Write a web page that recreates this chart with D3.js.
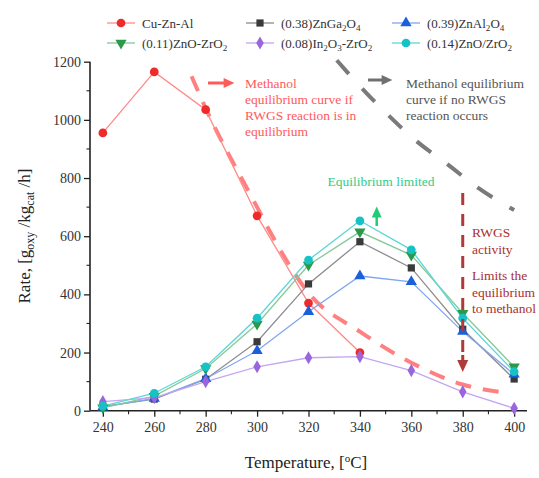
<!DOCTYPE html>
<html><head><meta charset="utf-8">
<script src="https://cdn.jsdelivr.net/npm/d3@7"></script>
<style>body{margin:0;background:#fff}svg{display:block}</style>
</head><body><svg id="c" width="539" height="478" font-family="'Liberation Serif','DejaVu Serif','Noto Serif',serif"></svg>
<script>
const temps = [240,260,280,300,320,340,360,380,400];
const cuZnAl = [955,1165,1035,670,370,200];
const znGa2O4 = [15,40,108,237,436,581,491,280,109];
const znAl2O4 = [12,42,110,206,340,463,443,272,125];
const znoZrO2_011 = [10,50,145,298,501,615,535,335,151];
const in2o3ZrO2 = [31,45,100,151,182,186,138,65,8];
const znoZrO2_014 = [16,60,151,318,518,653,553,318,134];
const eqRwgsT = [274.5,280,300,306,320,340,360,380,398];
const eqRwgsV = [1150,1040,700,600,405,272,165,90,60];
const eqNoRwgsT = [331,340,350,362,374,386,400];
const eqNoRwgsV = [1205,1116,1025,927,848,766,690];
const seriesNames = ["Cu-Zn-Al","(0.38)ZnGa_2O_4","(0.39)ZnAl_2O_4","(0.11)ZnO-ZrO_2","(0.08)In_2O_3-ZrO_2","(0.14)ZnO/ZrO_2"];
const xTicks = [240,260,280,300,320,340,360,380,400];
const yTicks = [0,200,400,600,800,1000,1200];

const FONT = "'Liberation Serif','DejaVu Serif','Noto Serif',serif";
const svg = d3.select("#c");
const x = d3.scaleLinear().domain([235,405]).range([90,527]);
const y = d3.scaleLinear().domain([0,1200]).range([410.7,61.7]);

const series = [
  {name:seriesNames[0], vals:cuZnAl, line:"#ff8a8a", mk:"#ee2a2a", sym:d3.symbolCircle, size:60},
  {name:seriesNames[1], vals:znGa2O4, line:"#8c8c8c", mk:"#3a3a3a", sym:d3.symbolSquare, size:52},
  {name:seriesNames[2], vals:znAl2O4, line:"#7fa6ee", mk:"#1a5fdc", sym:d3.symbolTriangle, size:55},
  {name:seriesNames[3], vals:znoZrO2_011, line:"#86c99a", mk:"#2a9a4a", sym:d3.symbolTriangle, size:55, rot:180},
  {name:seriesNames[4], vals:in2o3ZrO2, line:"#c4a6f0", mk:"#9a66dd", sym:d3.symbolDiamond, size:50},
  {name:seriesNames[5], vals:znoZrO2_014, line:"#5fd6d6", mk:"#16c2c6", sym:d3.symbolCircle, size:60}
];

function addSub(sel, str, fs){
  const parts = str.split(/_(.)/);
  let shift = 0;
  parts.forEach((p,i)=>{
    if(!p) return;
    if(i%2===1){ sel.append("tspan").attr("font-size",fs*0.7).attr("dy",3-shift).text(p); shift=3; }
    else { sel.append("tspan").attr("dy",-shift).text(p); shift=0; }
  });
}

// axes
const xAxis = d3.axisBottom(x).tickValues(xTicks).tickSize(6).tickPadding(5).tickFormat(d3.format("d"));
const gx = svg.append("g").attr("transform","translate(0,410.7)").call(xAxis).attr("font-family",FONT);
gx.selectAll(".tick text").attr("font-size",14).attr("fill","#333");
gx.select(".domain").attr("d","M90,0H527").attr("stroke","#222").attr("stroke-width",1.6);
gx.selectAll(".tick line").attr("stroke","#222").attr("stroke-width",1.3);
gx.selectAll(".minor").data(d3.range(250,401,20)).enter().append("line")
  .attr("x1",d=>x(d)).attr("x2",d=>x(d)).attr("y1",0).attr("y2",3.5).attr("stroke","#222").attr("stroke-width",1.1);

const yAxis = d3.axisLeft(y).tickValues(yTicks).tickSize(6).tickPadding(3).tickFormat(d3.format("d"));
const gy = svg.append("g").attr("transform","translate(90,0)").call(yAxis).attr("font-family",FONT);
gy.selectAll(".tick text").attr("font-size",14).attr("fill","#333");
gy.select(".domain").attr("d","M0,410.7V61.7").attr("stroke","#222").attr("stroke-width",1.6);
gy.selectAll(".tick line").attr("stroke","#222").attr("stroke-width",1.3);
gy.selectAll(".minor").data(d3.range(100,1200,200)).enter().append("line")
  .attr("y1",d=>y(d)).attr("y2",d=>y(d)).attr("x1",0).attr("x2",-3.5).attr("stroke","#222").attr("stroke-width",1.1);

// axis labels
const xl = svg.append("text").attr("x",306).attr("y",468).attr("text-anchor","middle").attr("font-size",17).attr("fill","#222");
xl.append("tspan").text("Temperature, [");
xl.append("tspan").attr("font-size",11).attr("dy",-6).text("o");
xl.append("tspan").attr("dy",6).text("C]");
const yl = svg.append("text").attr("transform","translate(30,236) rotate(-90)").attr("text-anchor","middle").attr("font-size",17).attr("fill","#222");
yl.append("tspan").text("Rate, [g");
yl.append("tspan").attr("font-size",12).attr("dy",4).text("oxy");
yl.append("tspan").attr("dy",-4).text(" /kg");
yl.append("tspan").attr("font-size",12).attr("dy",4).text("cat");
yl.append("tspan").attr("dy",-4).text(" /h]");

// equilibrium curves
const lineGen = d3.line().x(d=>x(d[0])).y(d=>y(d[1])).curve(d3.curveMonotoneX);
svg.append("path").datum(eqRwgsT.map((t,i)=>[t,eqRwgsV[i]]))
  .attr("d",lineGen).attr("fill","none").attr("stroke","#ff6a6a").attr("stroke-opacity",0.85)
  .attr("stroke-width",4).attr("stroke-dasharray","16,12");
svg.append("path").datum(eqNoRwgsT.map((t,i)=>[t,eqNoRwgsV[i]]))
  .attr("d",lineGen).attr("fill","none").attr("stroke","#7a7a7a")
  .attr("stroke-width",4).attr("stroke-dasharray","18,20");

// series
const lin = d3.line().x(d=>x(d[0])).y(d=>y(d[1]));
series.forEach(s=>{
  const pts = s.vals.map((v,i)=>[temps[i],v]);
  svg.append("path").datum(pts).attr("d",lin).attr("fill","none").attr("stroke",s.line).attr("stroke-width",1.3);
});
series.forEach(s=>{
  const pts = s.vals.map((v,i)=>[temps[i],v]);
  svg.selectAll(null).data(pts).enter().append("path")
    .attr("d",d3.symbol().type(s.sym).size(s.size))
    .attr("transform",d=>`translate(${x(d[0])},${y(d[1])})${s.rot?" rotate("+s.rot+")":""}`)
    .attr("fill",s.mk);
});

// legend
const legPos = [[107,23],[246,23],[392,23],[107,43],[246,43],[392,43]];
series.forEach((s,i)=>{
  const [lx,ly] = legPos[i];
  const g = svg.append("g").attr("transform",`translate(${lx},${ly})`);
  g.append("line").attr("x1",0).attr("x2",28).attr("y1",0).attr("y2",0).attr("stroke",s.line).attr("stroke-width",1.3);
  g.append("path").attr("d",d3.symbol().type(s.sym).size(s.size))
    .attr("transform",`translate(14,0)${s.rot?" rotate("+s.rot+")":""}`).attr("fill",s.mk);
  const t = g.append("text").attr("x",35).attr("y",4.5).attr("font-size",13).attr("fill","#333");
  addSub(t, s.name, 13);
});

// annotations
function arrow(x1,y1,x2,y2,color,w,head){
  svg.append("line").attr("x1",x1).attr("y1",y1).attr("x2",x2).attr("y2",y2).attr("stroke",color).attr("stroke-width",w);
  const a = Math.atan2(y2-y1,x2-x1), h=head;
  const p = [[x2+Math.cos(a)*h*0.6,y2+Math.sin(a)*h*0.6],
             [x2-Math.cos(a)*h*0.6+Math.sin(a)*h*0.55, y2-Math.sin(a)*h*0.6-Math.cos(a)*h*0.55],
             [x2-Math.cos(a)*h*0.6-Math.sin(a)*h*0.55, y2-Math.sin(a)*h*0.6+Math.cos(a)*h*0.55]];
  svg.append("path").attr("d","M"+p.join("L")+"Z").attr("fill",color);
}
arrow(208,83,229,83,"#ff5a5a",3,9);
const redTxt = ["Methanol","equilibrium curve if","RWGS reaction is in","equilibrium"];
redTxt.forEach((l,i)=>svg.append("text").attr("x",245).attr("y",88+i*16).attr("font-size",13.5).attr("fill","#ff5a5a").text(l));

arrow(368,80,387,80,"#707070",3,9);
const grayTxt = ["Methanol equilibrium","curve if no RWGS","reaction occurs"];
grayTxt.forEach((l,i)=>svg.append("text").attr("x",406).attr("y",88+i*16).attr("font-size",13.5).attr("fill","#555").text(l));

svg.append("text").attr("x",381).attr("y",186).attr("text-anchor","middle").attr("font-size",13.5).attr("fill","#33cc88").text("Equilibrium limited");
arrow(376.7,226,376.7,212,"#22cc77",2.5,9);

// RWGS vertical dashed arrow
svg.append("line").attr("x1",x(380)).attr("x2",x(380)).attr("y1",193).attr("y2",360)
  .attr("stroke","#b03a3a").attr("stroke-width",3).attr("stroke-dasharray","12,9");
arrow(x(380),355,x(380),366,"#b03a3a",3,10);
const rwgsTxt = [["RWGS",237],["activity",254],["Limits the",280],["equilibrium",297],["to methanol",313]];
rwgsTxt.forEach(([l,yy])=>svg.append("text").attr("x",472).attr("y",yy).attr("font-size",13.5).attr("fill","#a83030").text(l));
</script></body></html>
